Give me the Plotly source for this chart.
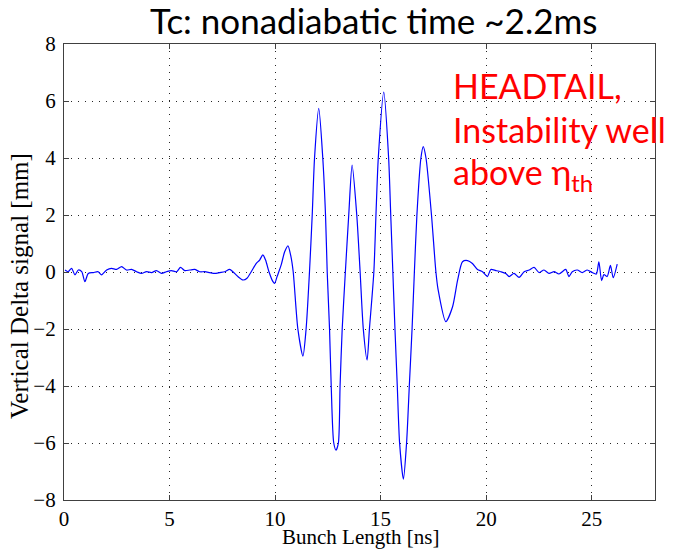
import plotly.graph_objects as go

# Bunch length [ns] and vertical delta signal [mm]
bunch_ns = [
    0.05, 0.20, 0.36, 0.52, 0.68, 0.84, 0.99, 1.15, 1.39, 1.62, 1.78, 2.02, 2.25, 2.49,
    2.73, 2.96, 3.20, 3.44, 3.67, 3.91, 4.15, 4.38, 4.62, 4.85, 5.09, 5.33, 5.52, 5.72,
    5.96, 6.19, 6.43, 6.67, 6.90, 7.14, 7.38, 7.61, 7.85, 8.00, 8.24, 8.48, 8.67, 8.87,
    9.11, 9.27, 9.42, 9.55, 9.71, 9.90, 9.98, 10.10, 10.29, 10.45, 10.61, 10.75, 10.86,
    11.08, 11.32, 11.47, 11.63, 11.76, 11.87, 12.07, 12.26, 12.39, 12.47, 12.58, 12.66,
    12.78, 12.89, 13.00, 13.08, 13.18, 13.33, 13.49, 13.65, 13.87, 14.03, 14.18, 14.36,
    14.47, 14.68, 14.78, 14.89, 15.15, 15.38, 15.48, 15.58, 15.68, 15.79, 15.90, 16.08,
    16.23, 16.36, 16.49, 16.60, 16.72, 16.91, 17.02, 17.15, 17.41, 17.62, 17.72, 18.09,
    18.41, 18.65, 18.88, 19.12, 19.35, 19.59, 19.83, 20.06, 20.22, 20.46, 20.69, 20.93,
    21.09, 21.32, 21.56, 21.80, 22.04, 22.27, 22.51, 22.74, 22.98, 23.22, 23.45, 23.77,
    23.92, 24.08, 24.32, 24.55, 24.79, 25.03, 25.22, 25.34, 25.47, 25.58, 25.73, 25.89,
    26.02, 26.21,
]
signal_mm = [
    0.07, 0.01, 0.13, -0.10, 0.07, 0.01, -0.34, -0.05, -0.02, 0.01, -0.10, 0.07, 0.13, 0.09,
    0.19, 0.07, 0.09, 0.01, -0.05, 0.01, -0.02, 0.05, -0.05, 0.01, 0.05, 0.01, 0.16, 0.05,
    0.07, 0.09, 0.01, 0.01, -0.02, -0.05, -0.02, 0.01, 0.09, 0.01, -0.16, -0.28, -0.22, 0.01,
    0.30, 0.42, 0.60, 0.42, 0.01, -0.34, -0.40, -0.15, 0.25, 0.70, 0.92, 0.55, 0.00,
    -2.00, -2.95, -2.00, 0.00, 2.00, 4.00, 5.74, 4.00, 2.00, 0.00, -2.00, -4.00,
    -6.00, -6.25, -6.00, -4.00, -2.00, 0.00, 2.00, 3.75, 2.00, 0.00, -2.00, -3.09,
    -2.00, 0.00, 2.00, 4.00, 6.31, 4.00, 2.00, 0.00, -2.00, -4.00, -6.00, -7.27,
    -6.00, -4.00, -2.00, 0.00, 2.00, 4.00, 4.40, 4.00, 2.00, 0.00, -0.60, -1.74,
    -1.22, -0.28, 0.36, 0.40, 0.30, 0.09, 0.01, -0.16, 0.09, 0.05, 0.01, -0.05,
    -0.16, -0.05, -0.19, 0.01, 0.07, 0.16, -0.02, 0.07, -0.05, 0.01, -0.07, 0.09,
    -0.16, 0.01, 0.07, -0.02, 0.07, -0.02, -0.07, 0.36, -0.30, -0.09, -0.16, 0.23,
    -0.20, 0.28,
]

x_ticks = [0, 5, 10, 15, 20, 25]
y_ticks = [-8, -6, -4, -2, 0, 2, 4, 6, 8]

title_text = "Tc: nonadiabatic time ~2.2ms"
note_lines = ["HEADTAIL,", "Instability well", "above η<sub>th</sub>"]
x_title = "Bunch Length [ns]"
y_title = "Vertical Delta signal [mm]"

W, H = 673, 551
L, R, T, B = 64, 18, 44, 51
PW, PH = W - L - R, H - T - B


def px(xp):
    return (xp - L) / PW


def py(yp):
    return (H - B - yp) / PH


fig = go.Figure()
fig.add_trace(go.Scatter(
    x=bunch_ns, y=signal_mm, mode="lines",
    line=dict(color="#0000ff", width=1.2, shape="spline", smoothing=0.7),
    showlegend=False, hoverinfo="skip",
))

serif = "Liberation Serif"
axis_common = dict(
    showline=True, linecolor="#404040", linewidth=1.2, mirror="ticks",
    ticks="inside", ticklen=5, tickcolor="#404040", tickwidth=1,
    showgrid=True, gridcolor="rgba(0,0,0,0.85)", gridwidth=1, griddash="1px,6px",
    zeroline=False, tickfont=dict(family=serif, size=21, color="black"),
)
fig.update_xaxes(range=[0, 28], tickvals=x_ticks, ticklabelstandoff=0, **axis_common)
fig.update_yaxes(range=[-8, 8], tickvals=y_ticks, ticklabelstandoff=3, **axis_common)

annos = [
    dict(text=title_text, x=px(373), y=py(20), xanchor="center", yanchor="middle",
         font=dict(family="Lato", size=35, color="black")),
    dict(text=x_title, x=px(360), y=py(537), xanchor="center", yanchor="middle",
         font=dict(family=serif, size=21, color="black")),
    dict(text=y_title, x=px(19), y=py(286), xanchor="center", yanchor="middle",
         textangle=-90, font=dict(family=serif, size=25, color="black")),
]
for line, yc in zip(note_lines, [86, 129, 174]):
    annos.append(dict(text=line, x=px(451), y=py(yc), xanchor="left", yanchor="middle",
                      font=dict(family="Lato", size=34, color="#ff0000")))
for a in annos:
    a.update(xref="paper", yref="paper", showarrow=False)

fig.update_layout(
    width=W, height=H, margin=dict(l=L, r=R, t=T, b=B),
    paper_bgcolor="white", plot_bgcolor="white",
    annotations=annos,
)
fig.write_html("out.html")
